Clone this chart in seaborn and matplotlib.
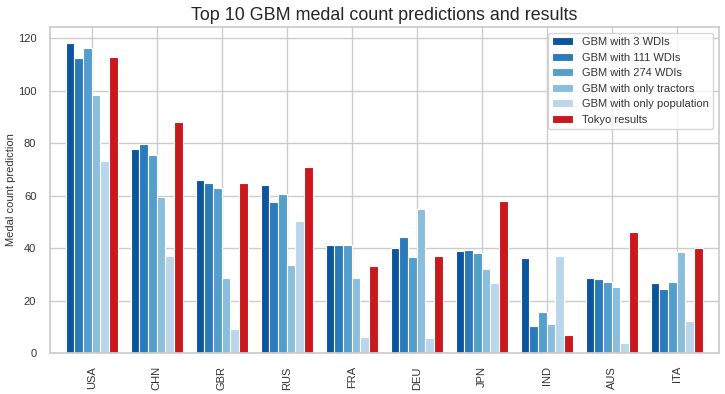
import matplotlib
matplotlib.use("Agg")
import matplotlib.pyplot as plt
import seaborn as sns
import pandas as pd

countries = ["USA", "CHN", "GBR", "RUS", "FRA", "DEU", "JPN", "IND", "AUS", "ITA"]
gbm_3_wdis = [118.3, 77.7, 66.0, 63.9, 41.1, 40.1, 39.0, 36.3, 28.6, 26.7]
gbm_111_wdis = [112.5, 79.6, 64.9, 57.7, 41.1, 44.3, 39.3, 10.2, 28.2, 24.4]
gbm_274_wdis = [116.3, 75.4, 63.1, 60.8, 41.1, 36.7, 38.2, 15.6, 27.1, 27.1]
gbm_tractors = [98.3, 59.6, 28.6, 33.6, 28.6, 55.0, 32.1, 11.0, 25.2, 38.6]
gbm_population = [73.1, 37.0, 9.1, 50.4, 6.0, 5.6, 26.7, 37.0, 3.7, 12.1]
tokyo_results = [113, 88, 65, 71, 33, 37, 58, 7, 46, 40]

series_names = ["GBM with 3 WDIs", "GBM with 111 WDIs", "GBM with 274 WDIs",
                "GBM with only tractors", "GBM with only population", "Tokyo results"]
series_values = [gbm_3_wdis, gbm_111_wdis, gbm_274_wdis, gbm_tractors,
                 gbm_population, tokyo_results]
colors = ["#0b559f", "#2b7bba", "#539ecd", "#89bedc", "#bad6eb", "#cb181d"]

rows = []
for name, vals in zip(series_names, series_values):
    for c, v in zip(countries, vals):
        rows.append({"country": c, "series": name, "value": v})
df = pd.DataFrame(rows)

sns.set_theme(style="whitegrid")
plt.rcParams["font.family"] = ["Liberation Sans", "DejaVu Sans"]

fig = plt.figure(figsize=(7.25, 3.94), dpi=100)
ax = fig.add_axes([49.5 / 725, 1 - 353 / 394, (719 - 49.5) / 725, (353 - 27) / 394])

sns.barplot(data=df, x="country", y="value", hue="series", order=countries,
            hue_order=series_names, palette=colors, width=0.8, ax=ax,
            edgecolor="white", linewidth=0.8, saturation=1)

ax.set_xlim(-0.65, 9.65)
ax.set_ylim(0, 124.3)
ax.set_yticks([0, 20, 40, 60, 80, 100, 120])
ax.set_xlabel("")
ax.set_ylabel("Medal count prediction", fontsize=8, color="#333333", labelpad=1)
ax.tick_params(axis="x", labelrotation=90, labelsize=8, colors="#333333")
ax.tick_params(axis="y", labelsize=8, colors="#333333")
ax.set_title("Top 10 GBM medal count predictions and results", fontsize=12.9, pad=5)
ax.xaxis.grid(True)
for s in ax.spines.values():
    s.set_color("#cccccc")

leg = ax.legend(loc="upper right", fontsize=8, frameon=True, handlelength=1.9,
                handletextpad=0.8, borderaxespad=0.5, labelspacing=0.5)
leg.get_frame().set_edgecolor("#cccccc")
for t in leg.get_texts():
    t.set_color("#333333")

fig.savefig("out.png", dpi=100)
